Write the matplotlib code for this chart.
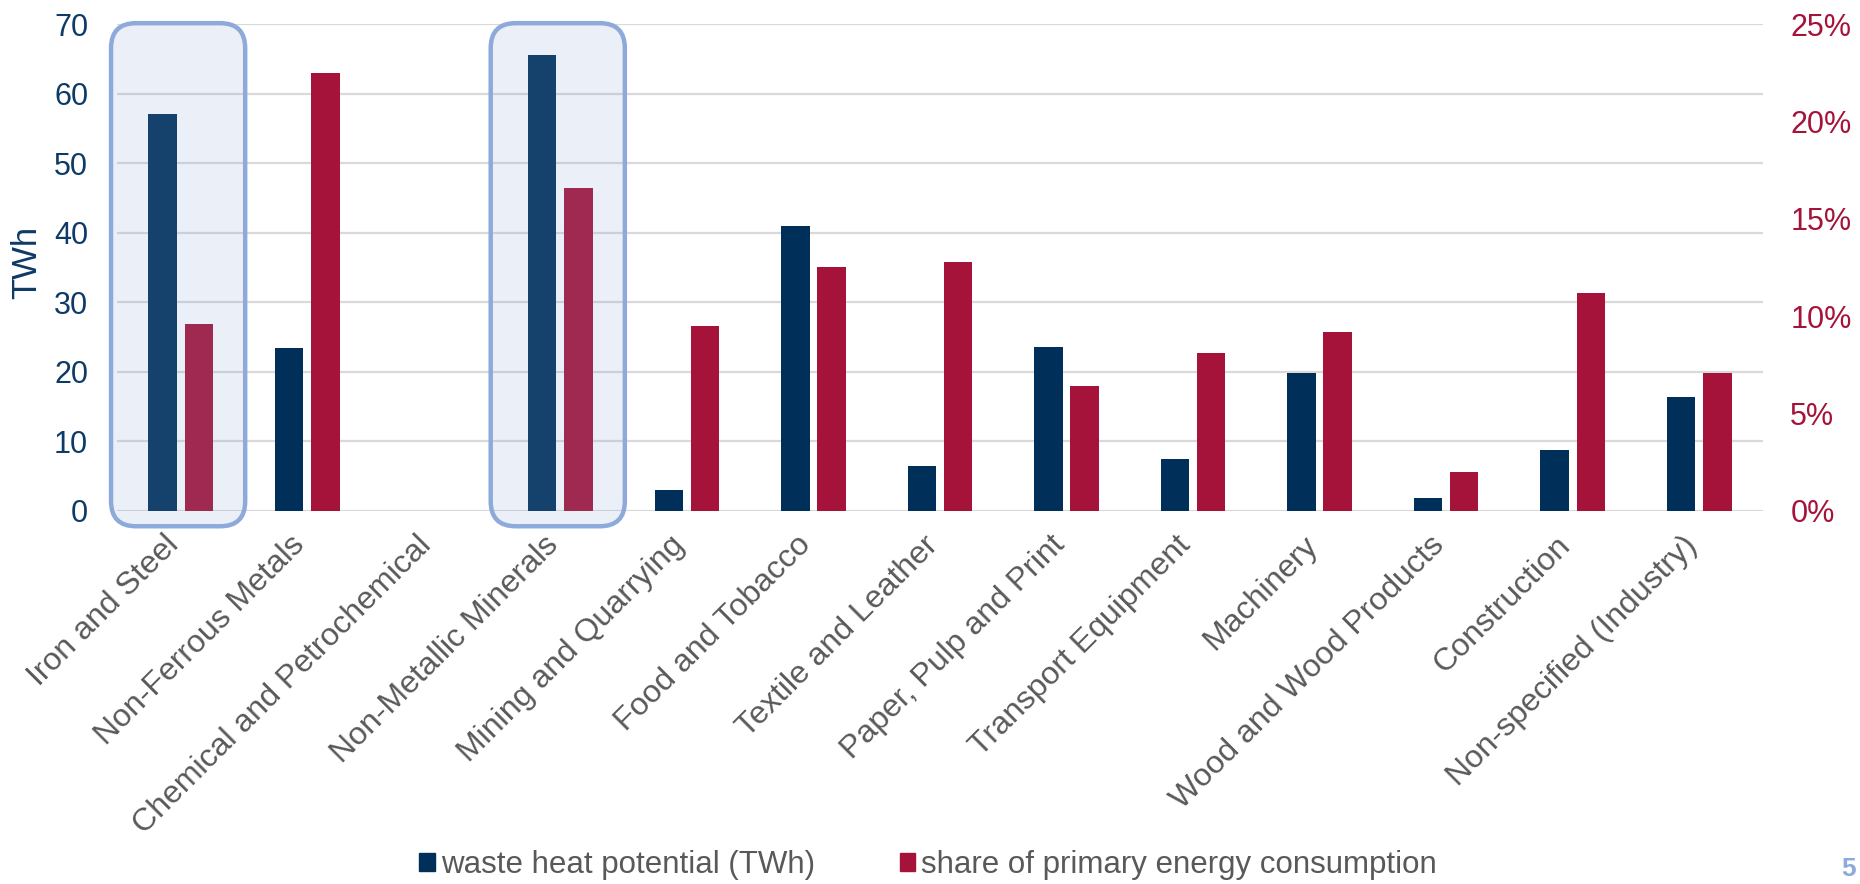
"""
Waste heat potential and share of primary energy consumption by industry sector
"""
import matplotlib
matplotlib.use('Agg')
import matplotlib.pyplot as plt
import matplotlib.transforms as mtransforms
from matplotlib.patches import FancyBboxPatch, Patch
from matplotlib.ticker import FuncFormatter, MultipleLocator

sectors = ['Iron and Steel', 'Non-Ferrous Metals', 'Chemical and Petrochemical',
           'Non-Metallic Minerals', 'Mining and Quarrying', 'Food and Tobacco',
           'Textile and Leather', 'Paper, Pulp and Print', 'Transport Equipment',
           'Machinery', 'Wood and Wood Products', 'Construction',
           'Non-specified (Industry)']
waste_heat_twh = [57.0, 23.4, 0.0, 65.6, 3.0, 40.9, 6.5, 23.6, 7.4, 19.8, 1.8, 8.8, 16.4]
energy_share = [0.096, 0.225, 0.0, 0.166, 0.095, 0.125, 0.128, 0.064, 0.081, 0.092,
                0.020, 0.112, 0.071]
highlighted = ['Iron and Steel', 'Non-Metallic Minerals']

NAVY = '#00305A'
CRIMSON = '#A6133A'
AXIS_BLUE = '#0D3A66'
GREY_TEXT = '#595959'
FRAME = '#8EAADB'

plt.rcParams['font.family'] = ['Liberation Sans', 'DejaVu Sans']

fig = plt.figure(figsize=(18.6, 8.84), dpi=100)
ax = fig.add_axes([0.0631, 0.4223, 0.8845, 0.5504])
ax2 = ax.twinx()

x = list(range(len(sectors)))
width = 0.225
shift = 0.143
ax.bar([i - shift for i in x], waste_heat_twh, width, color=NAVY, zorder=2)
ax2.bar([i + shift for i in x], energy_share, width, color=CRIMSON, zorder=2)

ax.set_xlim(-0.5, len(sectors) - 0.5)
ax.set_ylim(0, 70)
ax2.set_ylim(0, 0.25)
ax.yaxis.set_major_locator(MultipleLocator(10))
ax2.yaxis.set_major_locator(MultipleLocator(0.05))
ax2.yaxis.set_major_formatter(FuncFormatter(lambda v, p: f'{v * 100:.0f}%'))

ax.set_axisbelow(True)
ax.grid(axis='y', color='#D9D9D9', linewidth=1.6, zorder=0)
for a in (ax, ax2):
    for s in a.spines.values():
        s.set_visible(False)

ax.set_xticks(x)
ax.set_xticklabels(sectors, rotation=45, ha='right', va='top',
                   fontsize=23, color=GREY_TEXT)
ax.tick_params(axis='x', length=0, pad=14)
# nudge the slanted labels a little to the right
nudge = mtransforms.ScaledTranslation(4 / 100, 0, fig.dpi_scale_trans)
for lbl in ax.get_xticklabels():
    lbl.set_transform(lbl.get_transform() + nudge)
ax.tick_params(axis='y', length=0, pad=21, labelsize=22, labelcolor=AXIS_BLUE)
ax2.tick_params(axis='y', length=0, pad=20, labelsize=22, labelcolor=CRIMSON)

ax.set_ylabel('TWh', fontsize=25, color=AXIS_BLUE)
ax.yaxis.set_label_coords(-0.045, 0.51)

# rounded frames around the highlighted sectors (x in data, y in axes fraction)
fig.canvas.draw()
x_px = ax.transData.transform((1, 0))[0] - ax.transData.transform((0, 0))[0]
y_px = ax.bbox.height
radius = 25 / x_px
for name in highlighted:
    i = sectors.index(name)
    box = FancyBboxPatch((i - 0.55, -0.032), 1.06, 1.034,
                         boxstyle=f'round,pad=0,rounding_size={radius}',
                         mutation_aspect=x_px / y_px,
                         transform=ax2.get_xaxis_transform(),
                         facecolor=(0.52, 0.62, 0.82, 0.16),
                         edgecolor=FRAME, linewidth=3.2, clip_on=False, zorder=5)
    ax2.add_patch(box)

handles = [Patch(color=NAVY), Patch(color=CRIMSON)]
fig.legend(handles, ['waste heat potential (TWh)', 'share of primary energy consumption'],
           loc='center', bbox_to_anchor=(0.499, 0.021), ncol=2, frameon=False,
           fontsize=22.5, labelcolor=GREY_TEXT, handlelength=0.5, handleheight=0.5,
           handletextpad=0.2, columnspacing=2.7)

fig.text(1849 / 1860, 3 / 884, '5', fontsize=19, fontweight='bold', color=FRAME,
         ha='center', va='bottom')

fig.savefig('out.png', dpi=100)
